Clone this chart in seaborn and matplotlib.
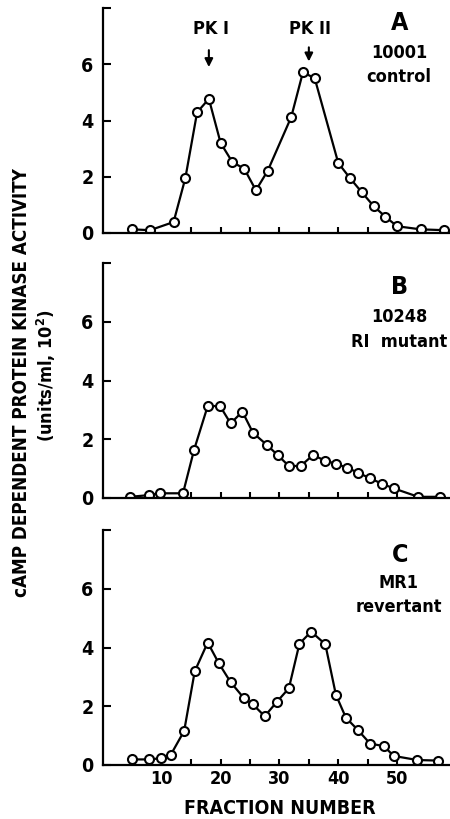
import numpy as np
import pandas as pd
import seaborn as sns
import matplotlib.pyplot as plt

# fraction number / activity (units/ml, 10^2)
frac_a = [5, 8, 12, 14, 16, 18, 20, 22, 24, 26, 28, 32, 34, 36, 40, 42, 44, 46, 48, 50, 54, 58]
act_a = [0.13, 0.1, 0.39, 1.95, 4.29, 4.77, 3.2, 2.52, 2.29, 1.52, 2.21, 4.12, 5.72, 5.5,
         2.49, 1.95, 1.45, 0.96, 0.58, 0.24, 0.13, 0.1]

frac_b = [4.6, 7.9, 9.7, 13.6, 15.5, 17.8, 19.9, 21.7, 23.7, 25.5, 27.9, 29.7, 31.6, 33.6,
          35.7, 37.8, 39.7, 41.5, 43.4, 45.4, 47.5, 49.4, 53.6, 57.3]
act_b = [0.04, 0.1, 0.16, 0.16, 1.65, 3.13, 3.13, 2.54, 2.94, 2.22, 1.8, 1.46, 1.09, 1.09,
         1.46, 1.27, 1.16, 1.03, 0.86, 0.67, 0.48, 0.33, 0.04, 0.04]

frac_c = [4.9, 7.8, 9.9, 11.5, 13.8, 15.6, 17.8, 19.7, 21.7, 23.9, 25.5, 27.5, 29.6, 31.6,
          33.4, 35.4, 37.8, 39.6, 41.3, 43.3, 45.4, 47.8, 49.4, 53.4, 57.0]
act_c = [0.19, 0.19, 0.23, 0.34, 1.16, 3.19, 4.17, 3.46, 2.82, 2.29, 2.06, 1.66, 2.16, 2.61,
         4.13, 4.54, 4.11, 2.39, 1.61, 1.2, 0.73, 0.64, 0.31, 0.17, 0.15]

panel_letters = ["A", "B", "C"]
strains = ["10001", "10248", "MR1"]
kinds = ["control", "RI  mutant", "revertant"]

sns.set_style("ticks")
plt.rcParams['font.family'] = ['DejaVu Sans']
plt.rcParams['font.stretch'] = 'condensed'
plt.rcParams['font.weight'] = 'bold'
for k in ['text.color', 'axes.labelcolor', 'xtick.color', 'ytick.color', 'axes.edgecolor']:
    plt.rcParams[k] = 'black'

W, H = 450, 819
fig = plt.figure(figsize=(W / 100, H / 100), dpi=100)

# axes boxes in pixels: (bottom y, top y)
boxes = [(233, 8), (498, 263), (765, 530)]
ytops = [7.7, 8, 8]
data = [(frac_a, act_a), (frac_b, act_b), (frac_c, act_c)]
label_y = [(23, 53, 77), (287, 317, 342), (555, 583, 607)]

axes = []
for i, ((yb, yt), (fx, fy)) in enumerate(zip(boxes, data)):
    ax = fig.add_axes([103 / W, 1 - yb / H, 1 - 103 / W, (yb - yt) / H])
    df = pd.DataFrame({"fraction": fx, "activity": fy})
    sns.lineplot(data=df, x="fraction", y="activity", ax=ax, color="black", lw=1.6,
                 marker="o", markersize=6.5, markerfacecolor="white",
                 markeredgecolor="black", markeredgewidth=1.5, sort=False)
    ax.set_xlim(0, 59)
    ax.set_ylim(0, ytops[i])
    ax.set_xlabel("")
    ax.set_ylabel("")
    sns.despine(ax=ax)
    for s in ["left", "bottom"]:
        ax.spines[s].set_linewidth(1.6)
    ax.set_yticks([0, 2, 4, 6, 8])
    ax.set_yticklabels(["0", "2", "4", "6", ""], fontsize=14, fontweight="bold")
    ax.set_xticks(np.arange(15, 51, 5))
    ax.tick_params(axis="y", direction="in", length=6, width=1.5, pad=7)
    ax.tick_params(axis="x", direction="in", length=4.5, width=1.5)
    if i < 2:
        ax.set_xticklabels([])
    else:
        ax.set_xticklabels(["", "20", "", "30", "", "40", "", "50"], fontsize=13,
                           fontweight="bold")
        ax.set_xticks([10], minor=True)
        ax.set_xticklabels(["10"], minor=True, fontsize=13, fontweight="bold")
        ax.tick_params(axis="x", which="minor", length=0,
                       pad=ax.xaxis.get_major_ticks()[0].get_pad())
    axes.append(ax)

    ya, ys, yk = label_y[i]
    fig.text(400 / W, 1 - ya / H, panel_letters[i], fontsize=18, fontweight="bold",
             ha="center", va="center")
    fig.text(399 / W, 1 - ys / H, strains[i], fontsize=13, fontweight="bold",
             ha="center", va="center")
    fig.text(399 / W, 1 - yk / H, kinds[i], fontsize=13, fontweight="bold",
             ha="center", va="center")

# peak markers on panel A
ax = axes[0]
ax.text(18.4, 7.27, "PK I", fontsize=13, fontweight="bold", ha="center", va="center")
ax.text(35.2, 7.27, "PK II", fontsize=13, fontweight="bold", ha="center", va="center")
ax.annotate("", xy=(18, 5.8), xytext=(18, 6.6),
            arrowprops=dict(arrowstyle="-|>", color="black", lw=1.5, mutation_scale=12))
ax.annotate("", xy=(35, 6.0), xytext=(35, 6.7),
            arrowprops=dict(arrowstyle="-|>", color="black", lw=1.5, mutation_scale=12))

fig.text(280 / W, 1 - 808 / H, "FRACTION NUMBER", fontsize=14, fontweight="bold",
         ha="center", va="center")
fig.text(22 / W, 1 - 383 / H, "cAMP DEPENDENT PROTEIN KINASE ACTIVITY", fontsize=13.5,
         fontweight="bold", rotation=90, ha="center", va="center")
fig.text(46 / W, 1 - 376 / H, "(units/ml, 10$^\\mathbf{2}$)", fontsize=13,
         fontweight="bold", rotation=90, ha="center", va="center")

fig.savefig("out.png", dpi=100)
